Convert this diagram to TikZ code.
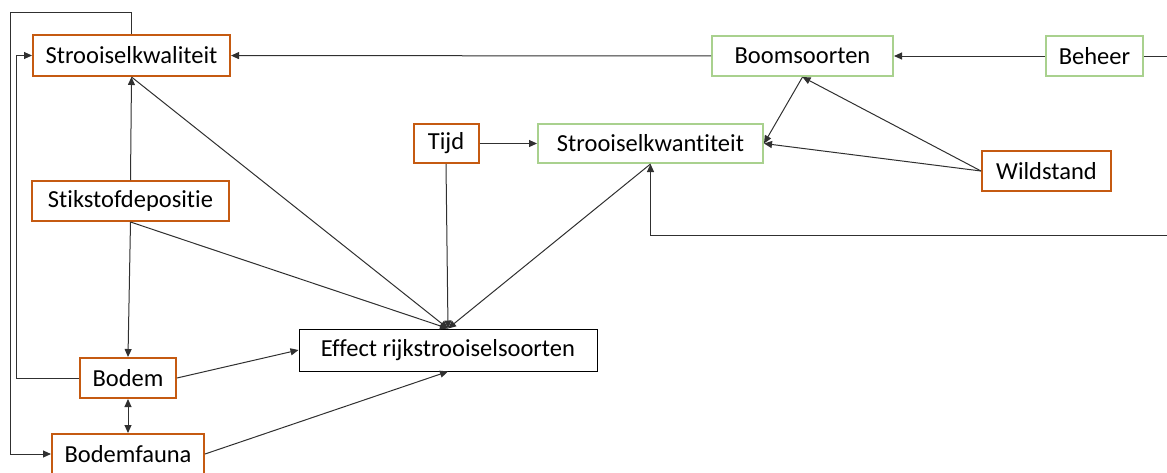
\documentclass[tikz,border=0pt]{standalone}
\usepackage{fontspec}
\setmainfont{Carlito}[Ligatures={NoCommon}]
\usetikzlibrary{arrows.meta, positioning}
\definecolor{soilOrange}{HTML}{C55A11}
\definecolor{treeGreen}{HTML}{A9D18E}
\definecolor{lineDark}{HTML}{303030}
\tikzset{
  arrowK/.style={-{Triangle[length=8pt, width=7pt]}, color=lineDark, line width=1pt},
  arrowKK/.style={{Triangle[length=8pt, width=7pt]}-{Triangle[length=8pt, width=7pt]}, color=lineDark, line width=1pt},
  lineK/.style={color=lineDark, line width=1pt},
  boxOrange/.style={rectangle, draw=soilOrange, line width=2pt, fill=white,
                    align=center, font=\fontsize{24.5}{28}\selectfont, inner sep=0pt},
  boxGreen/.style={rectangle, draw=treeGreen, line width=2pt, fill=white,
                   align=center, font=\fontsize{24.5}{28}\selectfont, inner sep=0pt},
  boxPlain/.style={rectangle, draw=black, line width=1pt, fill=white,
                   align=center, font=\fontsize{24.5}{28}\selectfont, inner sep=0pt},
}
\begin{document}
\begin{tikzpicture}[x=1pt, y=-1pt]
    \useasboundingbox (0,0) rectangle (1167,472);
    \node[boxOrange, minimum width=197pt, minimum height=41pt] (kwal)   at (131.5,55.5) {Strooiselkwaliteit};
    \node[boxGreen,  minimum width=181pt, minimum height=40pt] (boom)   at (802.5,56)   {Boomsoorten};
    \node[boxGreen,  minimum width=97pt,  minimum height=40pt] (beheer) at (1094.5,56)  {Beheer};
    \node[boxOrange, minimum width=65pt,  minimum height=39pt] (tijd)   at (446,143.5)  {Tijd};
    \node[boxGreen,  minimum width=225pt, minimum height=39pt] (kwan)   at (650.5,143.5) {Strooiselkwantiteit};
    \node[boxOrange, minimum width=129pt, minimum height=40pt] (wild)   at (1046.5,171) {Wildstand};
    \node[boxOrange, minimum width=197pt, minimum height=40pt] (stik)   at (130.5,201)  {Stikstofdepositie};
    \node[boxPlain,  minimum width=298pt, minimum height=42pt] (effect) at (448,350)    {Effect rijkstrooiselsoorten};
    \node[boxOrange, minimum width=96pt,  minimum height=40pt] (bodem)  at (128,378)    {Bodem};
    \node[boxOrange, minimum width=152pt, minimum height=40pt] (fauna)  at (128,454)    {Bodemfauna};
    \coordinate (rechtsA) at (1167,56);
    \coordinate (rechtsB) at (1167,235);
    \draw[arrowK] (boom) -- (kwal);
    \draw[arrowK] (beheer) -- (boom);
    \draw[lineK] (beheer) -- (rechtsA);
    \draw[arrowK] (rechtsB) -| (kwan.south);
    \draw[arrowK] (tijd) -- (kwan);
    \draw[arrowK] (boom.south) -- (kwan.east);
    \draw[arrowK] (wild.west) -- (kwan.east);
    \draw[arrowK] (wild.west) -- (boom.south);
    \draw[arrowK] (stik.north) -- (kwal.south);
    \draw[arrowK] (stik.south) -- (bodem.north);
    \draw[arrowK] (kwal.south) -- (effect.north);
    \draw[arrowK] (stik.south) -- (effect.north);
    \draw[arrowK] (tijd.south) -- (effect.north);
    \draw[arrowK] (kwan.south) -- (effect.north);
    \draw[arrowK] (bodem.east) -- (effect.west);
    \draw[arrowK] (fauna.east) -- (effect.south);
    \draw[arrowKK] (bodem.south) -- (fauna.north);
    \draw[arrowK] (bodem.west) -- ++(-63,0) |- (kwal.west);
    \draw[arrowK] (kwal.north) |- (10,12) |- (fauna.west);
  \end{tikzpicture}
\end{document}
